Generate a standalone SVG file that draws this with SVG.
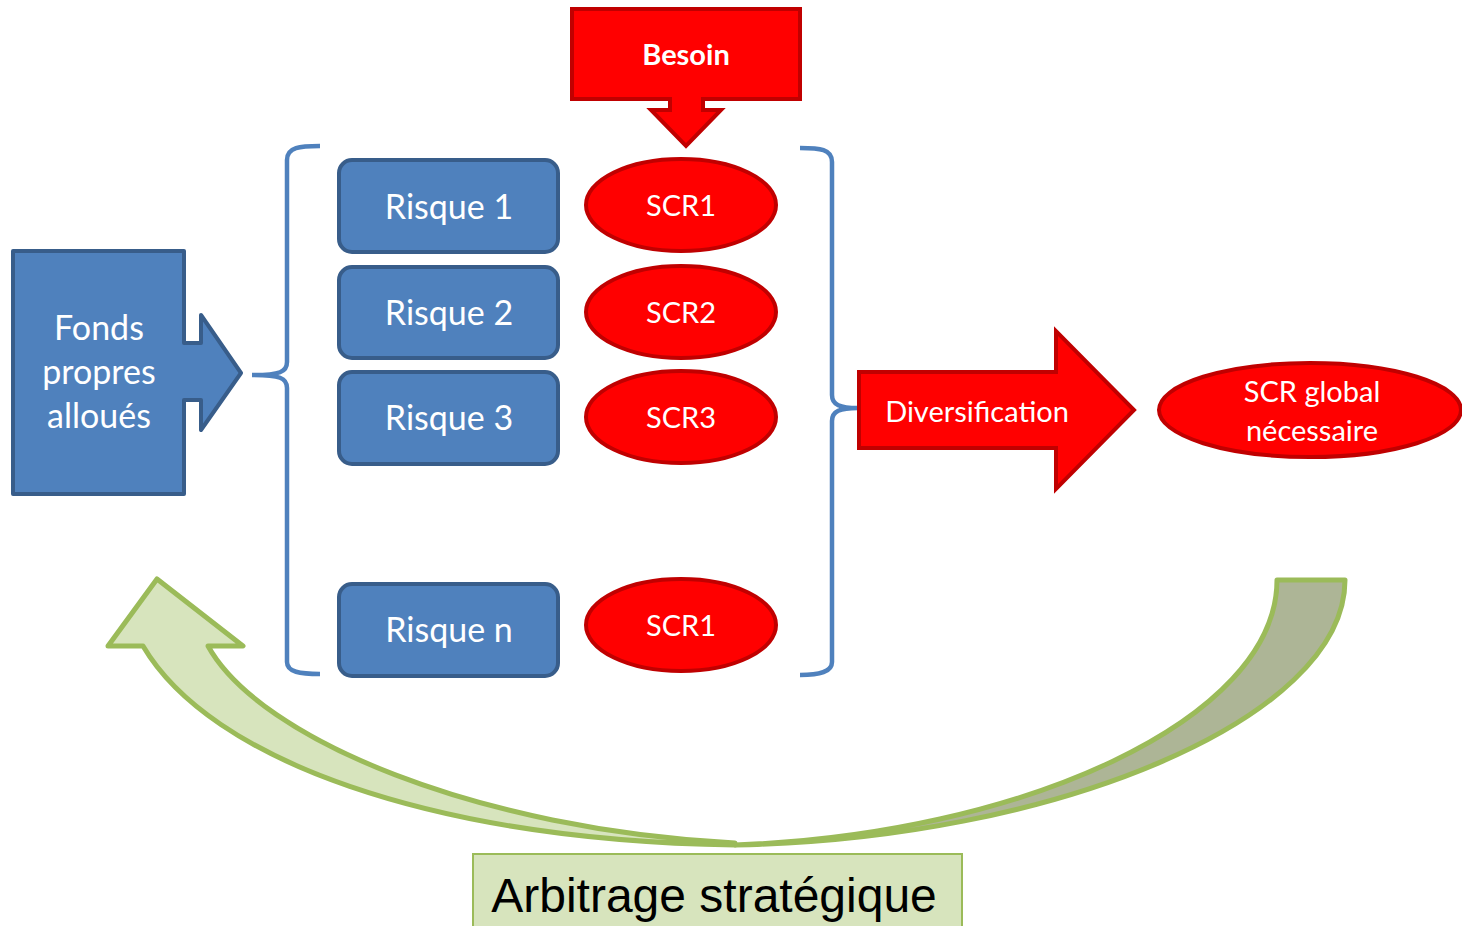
<svg xmlns="http://www.w3.org/2000/svg" width="1462" height="926" viewBox="0 0 1462 926">
<style>
.blue{fill:#4F81BD;stroke:#385D8A;stroke-width:4;stroke-linejoin:round}
.red{fill:#FF0000;stroke:#C00000;stroke-width:4;stroke-linejoin:miter}
.brace{fill:none;stroke:#4F81BD;stroke-width:4.5;stroke-linecap:butt}
.t{font-family:Lato,"Liberation Sans",sans-serif;fill:#FFFFFF;text-anchor:middle}
.big{font-size:34px}
.mid{font-size:29px}
.green{stroke:#9BBB59;stroke-width:5;stroke-linejoin:round}
</style>
<rect width="1462" height="926" fill="#FFFFFF"/>
<g id="connectors">
<path class="brace" d="M320,146 C300,146 287,147 287,160 L287,362 C287,372 280,375 252,375 C280,375 287,378 287,388 L287,662 C287,672 300,674 320,674"/>
<path class="brace" d="M800,148 C820,148 832,149 832,162 L832,395 C832,405 840,408 858,408 C840,408 832,411 832,421 L832,662 C832,672 820,675 800,675"/>
</g>
<g id="fonds">
<polygon class="blue" points="13,251 184,251 184,343 201,343 201,315 241,373 201,430 201,400 184,400 184,494 13,494"/>
<text class="t big" x="99" y="340">Fonds</text>
<text class="t big" x="99" y="384">propres</text>
<text class="t big" x="99" y="428">alloués</text>
</g>
<g id="besoin">
<polygon class="red" points="572,9 800,9 800,99 703,99 703,110 721,110 686,146 651,110 670,110 670,99 572,99"/>
<text class="t mid" x="686" y="65" font-weight="bold">Besoin</text>
</g>
<g id="risque1"><rect class="blue" x="339" y="160" width="219" height="92" rx="13"/><text class="t big" x="449" y="219">Risque 1</text></g>
<g id="risque2"><rect class="blue" x="339" y="267" width="219" height="91" rx="13"/><text class="t big" x="449" y="325">Risque 2</text></g>
<g id="risque3"><rect class="blue" x="339" y="372" width="219" height="92" rx="13"/><text class="t big" x="449" y="430">Risque 3</text></g>
<g id="risquen"><rect class="blue" x="339" y="584" width="219" height="92" rx="13"/><text class="t big" x="449" y="642">Risque n</text></g>
<g id="scr1"><ellipse class="red" cx="681" cy="205" rx="95" ry="46"/><text class="t mid" x="681" y="216">SCR1</text></g>
<g id="scr2"><ellipse class="red" cx="681" cy="312" rx="95" ry="46"/><text class="t mid" x="681" y="323">SCR2</text></g>
<g id="scr3"><ellipse class="red" cx="681" cy="417" rx="95" ry="46"/><text class="t mid" x="681" y="428">SCR3</text></g>
<g id="scrn"><ellipse class="red" cx="681" cy="625" rx="95" ry="46"/><text class="t mid" x="681" y="636">SCR1</text></g>
<g id="diversification">
<polygon class="red" points="859,372 1056,372 1056,331 1134,410 1056,489 1056,448 859,448"/>
<text class="t mid" x="977" y="422">Diversification</text>
</g>
<g id="scrglobal">
<ellipse class="red" cx="1310" cy="410" rx="151" ry="47"/>
<text class="t mid" x="1312" y="402">SCR global</text>
<text class="t mid" x="1312" y="441">nécessaire</text>
</g>
<g id="arbitrage-arrow">
<path class="green" fill="#ADB596" d="M1277,580 L1345,580 C1345,720 1050,840 735,845 C1020,835 1277,720 1277,580 Z"/>
<path class="green" fill="#D7E4BD" d="M735,845 C430,840 210,760 143,646 L108,646 L157,579 L243,646 L208,646 C260,740 480,830 735,843 Z"/>
</g>
<g id="arbitrage">
<rect x="473" y="854" width="489" height="80" fill="#D7E4BD" stroke="#9BBB59" stroke-width="2"/>
<text x="714" y="912" font-family="'Liberation Sans',Arial,sans-serif" font-size="48" fill="#000000" text-anchor="middle">Arbitrage stratégique</text>
</g>
</svg>
